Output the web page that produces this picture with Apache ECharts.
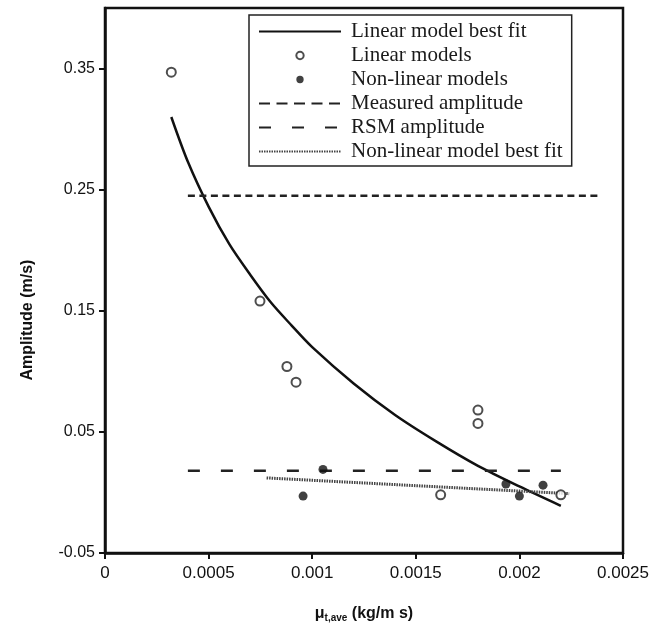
<!DOCTYPE html>
<html>
<head>
<meta charset="utf-8">
<script src="https://cdn.jsdelivr.net/npm/echarts@6/dist/echarts.min.js"></script>
<style>html,body{margin:0;padding:0;background:#fff;}#c{width:653px;height:634px;}</style>
</head>
<body>
<div id="c"></div>
<script>
// ---- data ----
var xTickLabels = ['0', '0.0005', '0.001', '0.0015', '0.002', '0.0025'];
var yTickLabels = ['-0.05', '0.05', '0.15', '0.25', '0.35'];

var linearFitX = [0.00032, 0.0004, 0.0005, 0.0006, 0.0007, 0.0008, 0.0009, 0.001, 0.0012, 0.0014, 0.0016, 0.0018, 0.002, 0.0022];
var linearFitY = [0.310, 0.273, 0.236, 0.205, 0.180, 0.157, 0.138, 0.120, 0.090, 0.064, 0.042, 0.022, 0.005, -0.011];

var linearModelsX = [0.00032, 0.000748, 0.000878, 0.000922, 0.0018, 0.0018, 0.00162, 0.0022];
var linearModelsY = [0.347, 0.158, 0.104, 0.091, 0.068, 0.057, -0.002, -0.002];

var nonLinearModelsX = [0.000956, 0.001052, 0.001935, 0.002, 0.002114];
var nonLinearModelsY = [-0.003, 0.019, 0.007, -0.003, 0.006];

var measuredX = [0.0004, 0.00238];
var measuredY = [0.245, 0.245];

var rsmX = [0.0004, 0.0022];
var rsmY = [0.018, 0.018];

var nonLinearFitX = [0.00078, 0.00224];
var nonLinearFitY = [0.012, -0.001];

function pairs(xs, ys) { return xs.map(function (x, i) { return [x, ys[i]]; }); }

var chart = echarts.init(document.getElementById('c'), null, {renderer: 'canvas'});
var serif = '"Liberation Serif", "Times New Roman", serif';
var sans = '"Liberation Sans", Arial, sans-serif';
var dotIcon = 'path://M0,0M16,16M8,3.8a4.2,4.2 0 1,0 0.01,0z';
var noSym = {color: 'rgba(0,0,0,0)', borderColor: 'rgba(0,0,0,0)', borderWidth: 0, opacity: 0};

chart.setOption({
  animation: false,
  backgroundColor: '#fff',
  grid: {left: 105, right: 30, top: 8, bottom: 81, show: true, borderColor: '#111', borderWidth: 2.5, backgroundColor: 'transparent'},
  xAxis: {
    type: 'value', min: 0, max: 0.0025, interval: 0.0005,
    axisLine: {onZero: false, lineStyle: {color: '#111', width: 2.5}},
    axisTick: {show: true, length: 6, lineStyle: {color: '#111', width: 2}},
    splitLine: {show: false},
    axisLabel: {color: '#111', fontFamily: sans, fontSize: 17, margin: 12,
      formatter: function (v) { var i = Math.round(v / 0.0005); return xTickLabels[i] || ''; }},
    name: '{m|\u03bc}{s|t,ave}{m| (kg/m s)}', nameLocation: 'middle', nameGap: 52,
    nameTextStyle: {rich: {
      m: {fontFamily: sans, fontSize: 16, fontWeight: 'bold', color: '#111'},
      s: {fontFamily: sans, fontSize: 10, fontWeight: 'bold', color: '#111', padding: [8, 0, 0, 0]}
    }}
  },
  yAxis: {
    type: 'value', min: -0.05, max: 0.4, interval: 0.1,
    axisLine: {onZero: false, lineStyle: {color: '#111', width: 2.5}},
    axisTick: {show: true, length: 6, lineStyle: {color: '#111', width: 2}},
    splitLine: {show: false},
    axisLabel: {color: '#111', fontFamily: sans, fontSize: 16, margin: 10, showMaxLabel: false,
      formatter: function (v) { var i = Math.round((v + 0.05) / 0.1); return (Math.abs(v - 0.4) < 1e-9) ? '' : (yTickLabels[i] || ''); }}
  },
  graphic: [{
    type: 'text', x: 28, y: 320, rotation: Math.PI / 2,
    style: {text: 'Amplitude (m/s)', fontFamily: sans, fontSize: 16, fontWeight: 'bold', fill: '#111', align: 'center', verticalAlign: 'middle'}
  }],
  legend: {
    orient: 'vertical', left: 249, top: 15,
    padding: [6, 9, 4, 9], itemWidth: 82, itemHeight: 14, itemGap: 3,
    symbolKeepAspect: true,
    backgroundColor: '#fff', borderColor: '#222', borderWidth: 1.5,
    textStyle: {fontFamily: serif, fontSize: 21, lineHeight: 21, color: '#1a1a1a', padding: [0, 0, 0, 5]},
    data: [
      {name: 'Linear model best fit', itemStyle: noSym},
      {name: 'Linear models', icon: dotIcon},
      {name: 'Non-linear models', icon: dotIcon},
      {name: 'Measured amplitude', itemStyle: noSym, lineStyle: {type: [11, 6.5]}},
      {name: 'RSM amplitude', itemStyle: noSym},
      {name: 'Non-linear model best fit', itemStyle: noSym}
    ]
  },
  series: [
    {name: 'Linear model best fit', type: 'line', data: pairs(linearFitX, linearFitY), smooth: 0.3, showSymbol: false, symbol: 'none',
      lineStyle: {color: '#111', width: 2.5}, itemStyle: {color: '#111'}, z: 3},
    {name: 'Linear models', type: 'scatter', data: pairs(linearModelsX, linearModelsY), symbol: 'circle', symbolSize: 9,
      itemStyle: {color: '#fff', borderColor: '#222', borderWidth: 2}, z: 5},
    {name: 'Non-linear models', type: 'scatter', data: pairs(nonLinearModelsX, nonLinearModelsY), symbol: 'circle', symbolSize: 9,
      itemStyle: {color: '#111'}, z: 5},
    {name: 'Measured amplitude', type: 'line', data: pairs(measuredX, measuredY), symbol: 'none',
      lineStyle: {color: '#222', width: 2.5, type: [7, 4.5]}, itemStyle: {color: '#222'}},
    {name: 'RSM amplitude', type: 'line', data: pairs(rsmX, rsmY), symbol: 'none',
      lineStyle: {color: '#222', width: 2.5, type: [12, 21]}, itemStyle: {color: '#222'}},
    {name: 'Non-linear model best fit', type: 'line', data: pairs(nonLinearFitX, nonLinearFitY), symbol: 'none',
      lineStyle: {color: '#444', width: 3, type: [1.5, 1]}, itemStyle: {color: '#444'}}
  ]
});
</script>
</body>
</html>
